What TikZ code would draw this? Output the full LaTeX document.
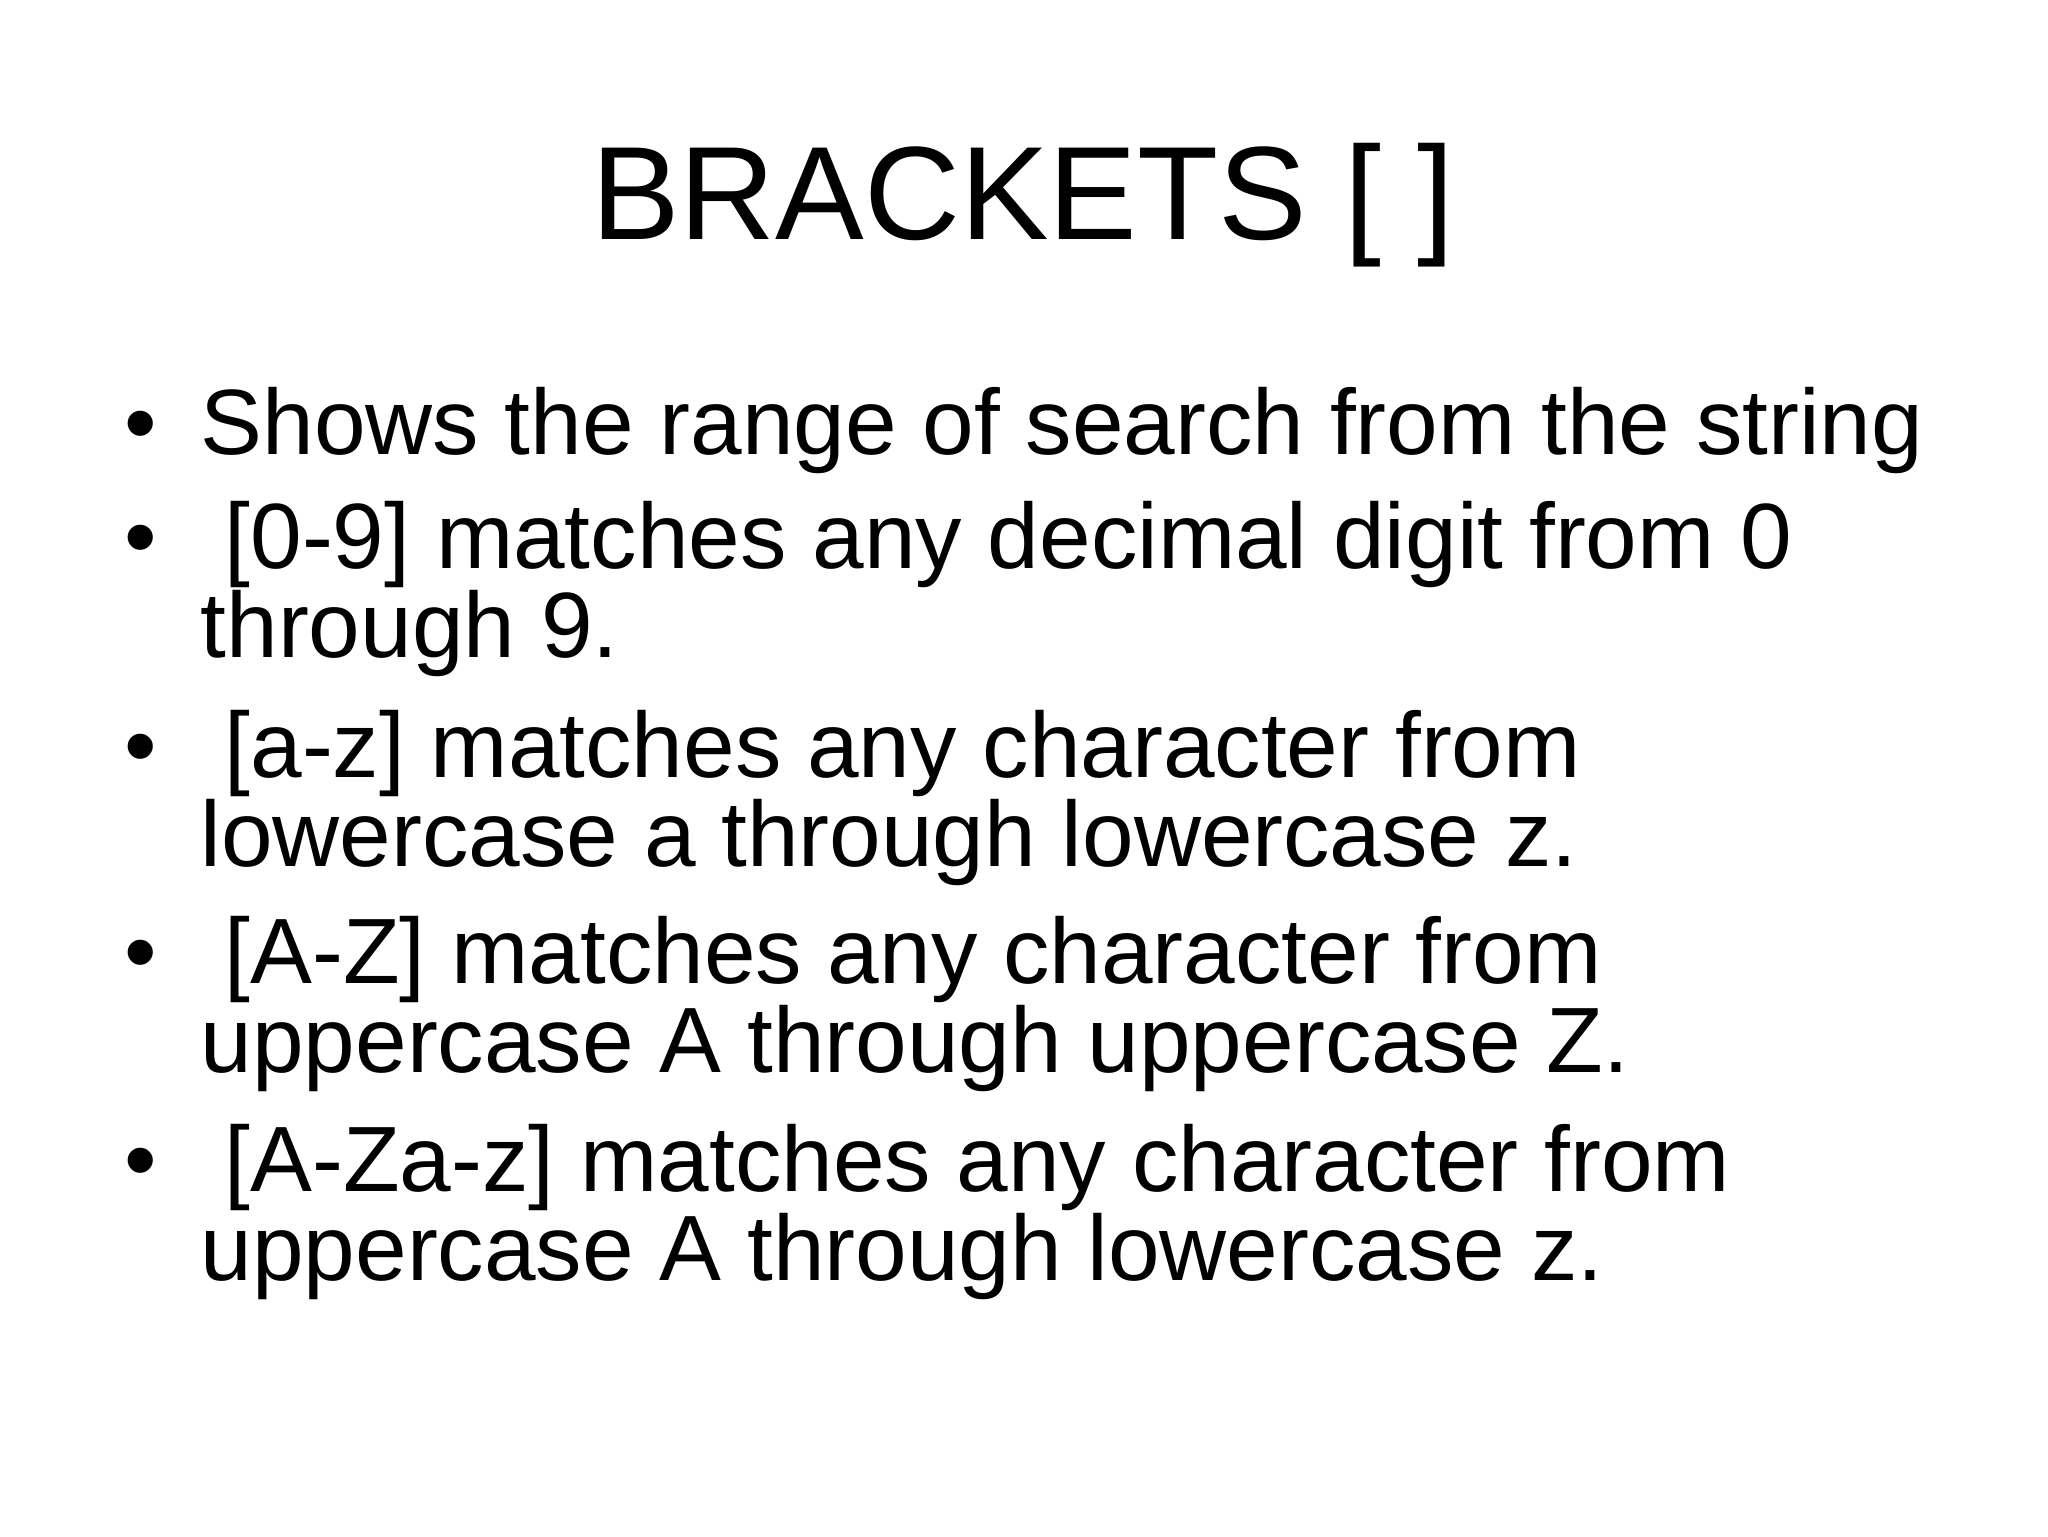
\documentclass[tikz,border=0pt]{standalone}
\usepackage{fontspec}
\setmainfont{Liberation Sans}
\begin{document}
\begin{tikzpicture}[x=1mm,y=-1mm,
  title/.style={anchor=base,inner sep=0pt,font=\fontsize{37.8}{40}\selectfont},
  line/.style={anchor=base west,inner sep=0pt,font=\fontsize{26.4}{25}\selectfont},
  dot/.style={anchor=base west,inner sep=0pt,font=\fontsize{26.4}{25}\selectfont}]
 \useasboundingbox (0,0) rectangle (204.8,153.6);
 \node[title] (head) at (102.3,23.9) {BRACKETS [ ]};
 % bullets
 \foreach \y/\n in {45.45/b1,56.8/b2,77.7/b3,98.3/b4,119.1/b5}
  \node[dot] (\n) at (12.4,\y) {\textbullet};
 \node[line] (l1) at (20,45.45) {Shows the range of search from the string};
 \node[line] (l2) at (22.4,56.8) {[0-9] matches any decimal digit from 0};
 \node[line] (l3) at (20,65.7) {through 9.};
 \node[line] (l4) at (22.4,77.7) {[a-z] matches any character from};
 \node[line] (l5) at (20,86.6) {lowercase a through lowercase z.};
 \node[line] (l6) at (22.4,98.3) {[A-Z] matches any character from};
 \node[line] (l7) at (20,107.2) {uppercase A through uppercase Z.};
 \node[line] (l8) at (22.4,119.1) {[A-Za-z] matches any character from};
 \node[line] (l9) at (20,128.0) {uppercase A through lowercase z.};
\end{tikzpicture}
\end{document}
